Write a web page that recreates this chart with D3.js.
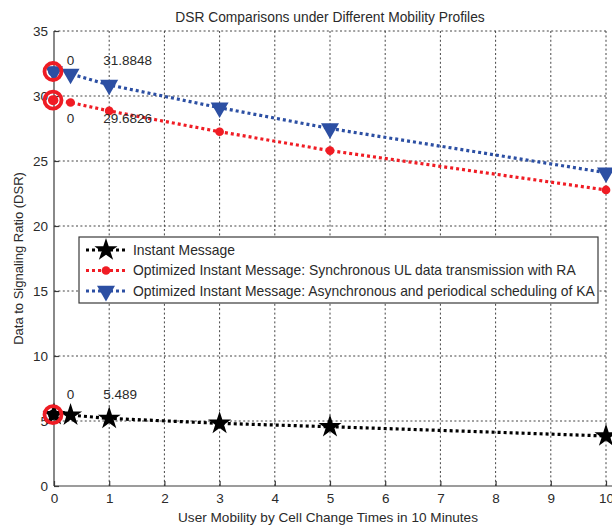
<!DOCTYPE html>
<html>
<head>
<meta charset="utf-8">
<script src="https://cdn.jsdelivr.net/npm/d3@7"></script>
<style>
  html, body { margin: 0; padding: 0; background: #fff; }
  svg { display: block; font-family: "Liberation Sans", Arial, sans-serif; }
</style>
</head>
<body>
<svg id="chart" width="612" height="527"></svg>
<script>
// ---- data ----
const xValues = [0, 0.3, 1, 3, 5, 10];
const instantMessage = [5.489, 5.45, 5.2, 4.82, 4.56, 3.85];
const syncULwithRA = [29.6826, 29.5, 28.85, 27.25, 25.8, 22.77];
const asyncKA = [31.8848, 31.7, 30.85, 29.1, 27.5, 24.1];
const seriesNames = [
  "Instant Message",
  "Optimized Instant Message: Synchronous UL data transmission with RA",
  "Optimized Instant Message: Asynchronous and periodical scheduling of KA"
];
const xTicks = [0, 1, 2, 3, 4, 5, 6, 7, 8, 9, 10];
const yTicks = [0, 5, 10, 15, 20, 25, 30, 35];
const titleText = "DSR Comparisons under Different Mobility Profiles";
const xLabel = "User Mobility by Cell Change Times in 10 Minutes";
const yLabel = "Data to Signaling Ratio (DSR)";
// data tips (X, Y)
const tipX = [0, 0, 0];
const tipY = [5.489, 29.6826, 31.8848];

// ---- layout ----
const svg = d3.select("#chart");
const L = 54, R = 606, T = 31, B = 486;
const x = d3.scaleLinear().domain([0, 10]).range([L, R]);
const y = d3.scaleLinear().domain([0, 35]).range([B, T]);
const textCol = "#2a2a2a";
const axisCol = "#3a3a3a";

const series = [
  { name: seriesNames[0], values: instantMessage, color: "#000000", marker: "star" },
  { name: seriesNames[1], values: syncULwithRA, color: "#f01c24", marker: "circle" },
  { name: seriesNames[2], values: asyncKA, color: "#2c4fa3", marker: "tri" }
];

// grid
const grid = svg.append("g");
grid.selectAll("line.vg").data(xTicks.filter(d => d > 0)).join("line")
  .attr("x1", d => x(d)).attr("x2", d => x(d)).attr("y1", T).attr("y2", B)
  .attr("stroke", "#444").attr("stroke-width", 1).attr("stroke-dasharray", "2,2.4");
grid.selectAll("line.hg").data(yTicks.filter(d => d > 0)).join("line")
  .attr("x1", L).attr("x2", R).attr("y1", d => y(d)).attr("y2", d => y(d))
  .attr("stroke", "#444").attr("stroke-width", 1).attr("stroke-dasharray", "2,2.4");

// axes
const xAxis = d3.axisBottom(x).tickValues(xTicks).tickSize(-5).tickPadding(7).tickFormat(d3.format("d"));
const yAxis = d3.axisLeft(y).tickValues(yTicks).tickSize(-5).tickPadding(6).tickFormat(d3.format("d"));
const gx = svg.append("g").attr("transform", `translate(0,${B})`).call(xAxis);
const gy = svg.append("g").attr("transform", `translate(${L},0)`).call(yAxis);
[gx, gy].forEach(g => {
  g.select(".domain").attr("stroke", axisCol).attr("stroke-width", 1.2);
  g.selectAll(".tick line").attr("stroke", axisCol).attr("stroke-width", 1.2);
  g.selectAll(".tick text").attr("fill", textCol).attr("font-size", 13.5)
    .attr("font-family", "Liberation Sans, Arial, sans-serif");
});
gx.select(".domain").attr("d", `M${L},0H${R + 10}`);
gy.select(".domain").attr("d", `M0,${B}V${T}`);

// lines
const line = d3.line().x((d, i) => x(xValues[i])).y(d => y(d));
const symStar = d3.symbol().type(d3.symbolStar).size(165);
const symCircle = d3.symbol().type(d3.symbolCircle).size(60);
const symTri = d3.symbol().type(d3.symbolTriangle).size(140);
function drawMarker(g, type, cx, cy, color) {
  if (type === "star") {
    g.append("path").attr("d", symStar()).attr("transform", `translate(${cx},${cy})`).attr("fill", color);
  } else if (type === "circle") {
    g.append("path").attr("d", symCircle()).attr("transform", `translate(${cx},${cy})`).attr("fill", color);
  } else {
    g.append("path").attr("d", symTri()).attr("transform", `translate(${cx},${cy}) rotate(180)`).attr("fill", color);
  }
}
series.forEach(s => {
  svg.append("path").datum(s.values).attr("d", line)
    .attr("fill", "none").attr("stroke", s.color).attr("stroke-width", 3.2)
    .attr("stroke-dasharray", "3,3");
  const g = svg.append("g");
  s.values.forEach((v, i) => drawMarker(g, s.marker, x(xValues[i]), y(v), s.color));
});

// data tips
series.forEach((s, i) => {
  const cx = x(tipX[i]) - 1, cy = y(tipY[i]);
  svg.append("circle").attr("cx", cx).attr("cy", cy).attr("r", 8.5)
    .attr("fill", "none").attr("stroke", "#ee1c24").attr("stroke-width", 3.8);
  svg.append("circle").attr("cx", cx).attr("cy", cy).attr("r", 5).attr("fill", s.color);
});
// data tip labels
const tipLabelOffsets = [-20, 18, -11];
series.forEach((s, i) => {
  const ly = y(tipY[i]) + tipLabelOffsets[i];
  svg.append("text").attr("x", x(0.3)).attr("y", ly).attr("dy", "0.35em")
    .attr("text-anchor", "middle").attr("font-size", 13.5).attr("fill", textCol)
    .text(d3.format("d")(tipX[i]));
  svg.append("text").attr("x", x(1) - 6).attr("y", ly).attr("dy", "0.35em")
    .attr("text-anchor", "start").attr("font-size", 13.5).attr("fill", textCol)
    .text(String(tipY[i]));
});

// legend
const lg = svg.append("g");
lg.append("rect").attr("x", 79).attr("y", 237).attr("width", 519).attr("height", 66)
  .attr("fill", "#fff").attr("stroke", "#3a3a3a").attr("stroke-width", 1.2);
series.forEach((s, i) => {
  const ly = 250 + i * 20.5;
  lg.append("line").attr("x1", 86).attr("x2", 126).attr("y1", ly).attr("y2", ly)
    .attr("stroke", s.color).attr("stroke-width", 3.2).attr("stroke-dasharray", "3,3");
  drawMarker(lg, s.marker, 106, ly, s.color);
  lg.append("text").attr("x", 133).attr("y", ly).attr("dy", "0.35em")
    .attr("font-size", 13.9).attr("fill", textCol).text(s.name);
});

// title and labels
svg.append("text").attr("x", (L + R) / 2).attr("y", 17).attr("dy", "0.35em")
  .attr("text-anchor", "middle").attr("font-size", 13.8).attr("fill", textCol).text(titleText);
svg.append("text").attr("x", (L + R) / 2 - 2).attr("y", 517).attr("dy", "0.35em")
  .attr("text-anchor", "middle").attr("font-size", 13.6).attr("fill", textCol).text(xLabel);
svg.append("text").attr("transform", `translate(18,${(T + B) / 2}) rotate(-90)`).attr("dy", "0.35em")
  .attr("text-anchor", "middle").attr("font-size", 13).attr("fill", textCol).text(yLabel);
</script>
</body>
</html>
